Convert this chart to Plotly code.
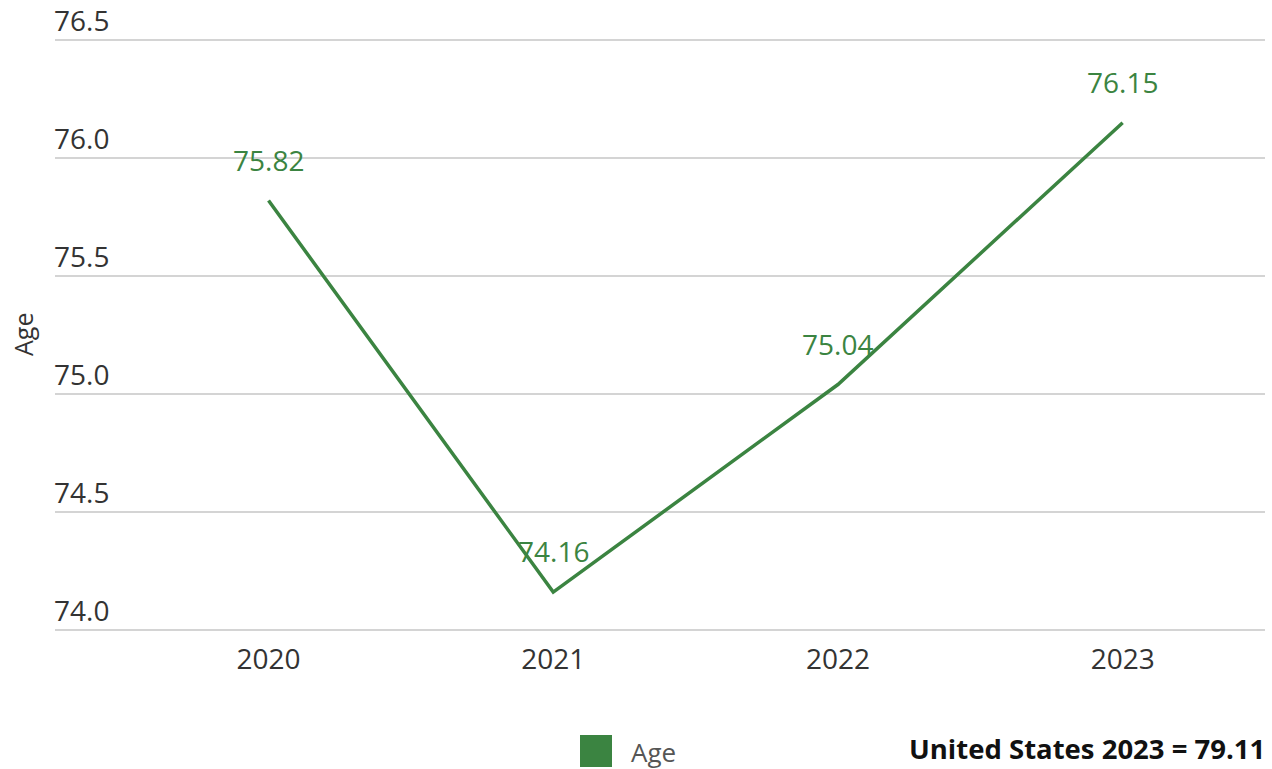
import plotly.graph_objects as go

years = ["2020", "2021", "2022", "2023"]
ages = [75.82, 74.16, 75.04, 76.15]
y_ticks = [74.0, 74.5, 75.0, 75.5, 76.0, 76.5]
series_name = "Age"
note_text = "United States 2023 = 79.11"

GREEN = "#3b8441"
FONT = "Open Sans"
TXT = "#333333"

# page-pixel layout of plot area (body margin removed via post_script)
PL, PR, PT, PB = 55, 1265, 39, 631
W, H = 1272, 769


def px(x):
    return (x - PL) / (PR - PL)


def py(y):
    return (PB - y) / (PB - PT)


fig = go.Figure()
fig.add_trace(go.Scatter(
    x=list(range(len(years))), y=ages, mode="lines", name=series_name,
    line=dict(color=GREEN, width=3.5), showlegend=False, hoverinfo="skip",
))

# data labels
for i, y in enumerate(ages):
    fig.add_annotation(x=i, y=y, xref="x", yref="y", text=f"{y:.2f}",
                       showarrow=False, yanchor="bottom", xanchor="center",
                       yshift=20, font=dict(family=FONT, size=28, color=GREEN))

# y tick labels (above gridlines)
for v in y_ticks:
    fig.add_annotation(x=0, y=v, xref="paper", yref="y", text=f"{v:.1f}",
                       showarrow=False, xanchor="left", yanchor="bottom",
                       xshift=-2, yshift=0, borderpad=0,
                       font=dict(family=FONT, size=28, color=TXT))

fig.update_layout(
    width=W, height=H,
    margin=dict(l=PL, r=W - PR, t=PT, b=H - PB),
    plot_bgcolor="white", paper_bgcolor="white",
    font=dict(family=FONT, size=28, color=TXT),
    xaxis=dict(range=[-0.75, 3.5], tickvals=list(range(len(years))), ticktext=years,
               showgrid=False, zeroline=False, showline=False,
               ticks="", ticklabelstandoff=9,
               tickfont=dict(family=FONT, size=28, color=TXT)),
    yaxis=dict(range=[73.995, 76.505], tickvals=y_ticks, showticklabels=False,
               showgrid=True, gridcolor="#d4d4d4", gridwidth=2,
               zeroline=False, showline=False),
    showlegend=False,
)

# y-axis title
fig.add_annotation(x=px(23), y=0.5, xref="paper", yref="paper", text=series_name,
                   textangle=-90, showarrow=False, xanchor="center", yanchor="middle",
                   borderpad=0, font=dict(family=FONT, size=25, color=TXT))

# legend swatch + label
fig.add_shape(type="rect", xref="paper", yref="paper",
              x0=px(580), x1=px(612), y0=py(735), y1=py(767),
              fillcolor=GREEN, line=dict(width=0))
fig.add_annotation(x=px(629), y=py(752), xref="paper", yref="paper",
                   text=series_name, showarrow=False, xanchor="left", yanchor="middle",
                   font=dict(family=FONT, size=26, color="#555555"))

# note bottom right
fig.add_annotation(x=px(1267), y=py(748), xref="paper", yref="paper",
                   text=f"<b>{note_text}</b>", showarrow=False, xanchor="right",
                   yanchor="middle", font=dict(family=FONT, size=27.5, color="#111111"))

fig.write_html("out.html",
               config={"displayModeBar": False, "staticPlot": True},
               post_script="document.body.style.margin='0';document.body.style.overflow='hidden';")
